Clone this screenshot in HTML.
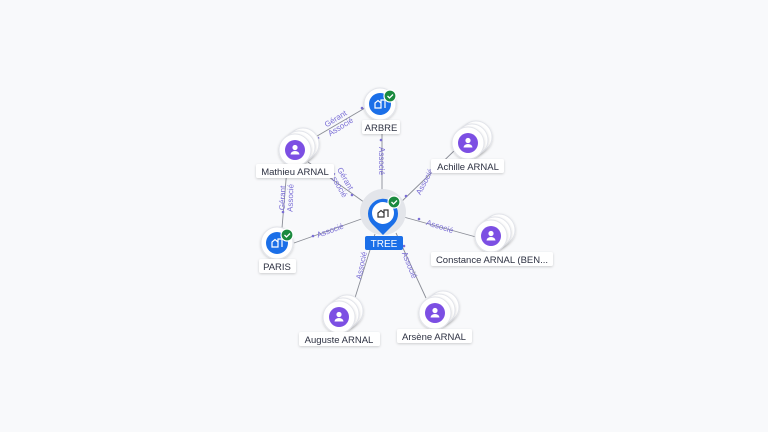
<!DOCTYPE html>
<html><head><meta charset="utf-8"><style>
html,body{margin:0;padding:0;background:#f8f9fb;}
svg{display:block;font-family:"Liberation Sans",sans-serif;}
.l{font-size:8px;fill:#7b6fd6;}
.n{font-size:9.5px;fill:#2d3142;}
</style></head><body>
<svg width="768" height="432" viewBox="0 0 768 432">
<defs>
<filter id="sh" x="-30%" y="-30%" width="160%" height="160%"><feDropShadow dx="0" dy="1" stdDeviation="1.2" flood-color="#000" flood-opacity="0.18"/></filter>
<g id="person">
<circle cx="8" cy="-6" r="16" fill="#fff" stroke="#e2e4ea" filter="url(#sh)"/>
<circle cx="4" cy="-3" r="16" fill="#fff" stroke="#e2e4ea" filter="url(#sh)"/>
<circle cx="0" cy="0" r="16" fill="#fff" stroke="#e2e4ea" filter="url(#sh)"/>
<circle cx="0" cy="0" r="10" fill="#7c4fe3"/>
<circle cx="0" cy="-2.5" r="2.6" fill="#fff"/>
<path d="M-4.5 4.5 a4.5 3.5 0 0 1 9 0 z" fill="#fff"/>
</g>
<g id="co">
<circle cx="0" cy="0" r="16" fill="#fff" stroke="#e2e4ea" filter="url(#sh)"/>
<circle cx="0" cy="0" r="11" fill="#1b6fe8"/>
<path d="M-5 4 v-5 l3-2.5 l3 2.5 v5 z M1 4 v-8 h4 v8" fill="none" stroke="#fff" stroke-width="1.2"/>
<circle cx="10" cy="-8" r="6" fill="#1a8a3e" stroke="#fff" stroke-width="1.2"/>
<path d="M7.5 -8 l2 2 l3.5 -3.5" fill="none" stroke="#fff" stroke-width="1.3"/>
</g>
</defs>
<g stroke="#8a8d96" stroke-width="0.9" fill="none">
<line x1="312" y1="139" x2="365" y2="108"/>
<line x1="308" y1="162" x2="368" y2="205"/>
<line x1="287" y1="168" x2="282" y2="228"/>
<line x1="382" y1="120" x2="382" y2="196"/>
<line x1="455" y1="150" x2="398" y2="205"/>
<line x1="476" y1="237" x2="400" y2="216"/>
<line x1="294" y1="243" x2="367" y2="217"/>
<line x1="354" y1="301" x2="375" y2="234"/>
<line x1="426" y1="298" x2="396" y2="233"/>
</g>
<g class="l" text-anchor="middle">
<text transform="translate(337,121) rotate(-32)">Gérant</text>
<text transform="translate(342,129) rotate(-32)">Associé</text>
<text transform="translate(343,180) rotate(60)">Gérant</text>
<text transform="translate(336,186) rotate(60)">Associé</text>
<text transform="translate(285,198) rotate(-88)">Gérant</text>
<text transform="translate(293,198) rotate(-88)">Associé</text>
<text transform="translate(379,161) rotate(90)">Associé</text>
<text transform="translate(427,183) rotate(-62)">Associé</text>
<text transform="translate(439,229) rotate(18)">Associé</text>
<text transform="translate(331,233) rotate(-20)">Associé</text>
<text transform="translate(364,266) rotate(-78)">Associé</text>
<text transform="translate(407,266) rotate(68)">Associé</text>
</g>
<g fill="#7b6fd6">
<circle cx="362" cy="108" r="1.3"/><circle cx="318" cy="138" r="1.3"/>
<circle cx="352" cy="195" r="1.3"/><circle cx="283" cy="212" r="1.3"/>
<circle cx="381" cy="140" r="1.3"/><circle cx="406" cy="196" r="1.3"/>
<circle cx="419" cy="219" r="1.3"/><circle cx="313" cy="236" r="1.3"/>
<circle cx="404" cy="246" r="1.3"/>
</g>
<circle cx="383" cy="212" r="23" fill="#e3e5ea"/>
<path d="M383 235 L372 224 A15 15 0 1 1 394 224 Z" fill="#1b6fe8"/>
<circle cx="383" cy="213" r="11" fill="#fff"/>
<path d="M378 217 v-4 l3-2.5 l3 2.5 v4 z M384 217 v-7 h4 v7" fill="none" stroke="#333" stroke-width="1.2"/>
<circle cx="394" cy="202" r="6" fill="#1a8a3e" stroke="#fff" stroke-width="1.2"/>
<path d="M391.5 202 l2 2 l3.5 -3.5" fill="none" stroke="#fff" stroke-width="1.3"/>
<rect x="365" y="236" width="38" height="14" rx="2" fill="#1b6fe8"/>
<text x="384" y="247" text-anchor="middle" font-size="10" fill="#fff">TREE</text>
<use href="#co" x="380" y="104"/>
<use href="#co" x="277" y="243"/>
<use href="#person" x="295" y="150"/>
<use href="#person" x="468" y="143"/>
<use href="#person" x="491" y="236"/>
<use href="#person" x="339" y="317"/>
<use href="#person" x="435" y="313"/>
<g filter="url(#sh)" fill="#fff">
<rect x="362" y="120" width="38" height="14" rx="2"/>
<rect x="256" y="164" width="78" height="14" rx="2"/>
<rect x="259" y="259" width="37" height="14" rx="2"/>
<rect x="431" y="159" width="73" height="14" rx="2"/>
<rect x="431" y="252" width="122" height="14" rx="2"/>
<rect x="299" y="332" width="81" height="14" rx="2"/>
<rect x="397" y="329" width="75" height="14" rx="2"/>
</g>
<g class="n" text-anchor="middle">
<text x="381" y="131">ARBRE</text>
<text x="295" y="175">Mathieu ARNAL</text>
<text x="277" y="270">PARIS</text>
<text x="468" y="170">Achille ARNAL</text>
<text x="492" y="263">Constance ARNAL (BEN...</text>
<text x="339" y="343">Auguste ARNAL</text>
<text x="434" y="340">Arsène ARNAL</text>
</g>
</svg>
</body></html>
